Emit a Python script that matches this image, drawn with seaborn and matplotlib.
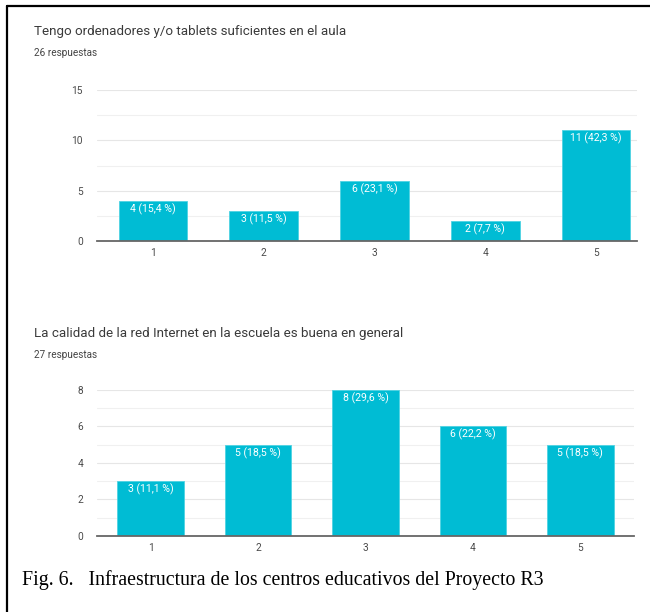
import numpy as np
import pandas as pd
import seaborn as sns
import matplotlib.pyplot as plt
from matplotlib.lines import Line2D
from matplotlib.ticker import MultipleLocator

# data
scale_labels = ["1", "2", "3", "4", "5"]
title_1 = "Tengo ordenadores y/o tablets suficientes en el aula"
answers_1 = "26 respuestas"
counts_1 = [4, 3, 6, 2, 11]
pct_1 = ["15,4", "11,5", "23,1", "7,7", "42,3"]
title_2 = "La calidad de la red Internet en la escuela es buena en general"
answers_2 = "27 respuestas"
counts_2 = [3, 5, 8, 6, 5]
pct_2 = ["11,1", "18,5", "29,6", "22,2", "18,5"]
caption = "Fig. 6.   Infraestructura de los centros educativos del Proyecto R3"

sns.set_theme(style="white")
plt.rcParams['font.family'] = ['Roboto', 'DejaVu Sans']

bar_color = "#00bcd4"
fig = plt.figure(figsize=(6.5, 6.12), dpi=100)


def draw_chart(rect, counts, pct, ymax, major, xlim):
    ax = fig.add_axes(rect)
    df = pd.DataFrame({"opcion": scale_labels, "n": counts})
    sns.barplot(data=df, x="opcion", y="n", color=bar_color, saturation=1,
                width=0.62, edgecolor="#4fd3e3", linewidth=0.6, ax=ax, zorder=3)
    ax.set_ylim(0, ymax)
    ax.set_xlim(*xlim)
    ax.yaxis.set_major_locator(MultipleLocator(major))
    ax.yaxis.set_minor_locator(MultipleLocator(major / 2))
    ax.grid(axis="y", which="major", color="#e6e6e6", linewidth=0.8, zorder=0)
    ax.grid(axis="y", which="minor", color="#f0f0f0", linewidth=0.8, zorder=0)
    ax.set_axisbelow(True)
    for s in ["top", "right", "left"]:
        ax.spines[s].set_visible(False)
    ax.spines["bottom"].set_color("#666666")
    ax.spines["bottom"].set_linewidth(1.3)
    ax.spines["bottom"].set_zorder(4)
    ax.set_xlabel("")
    ax.set_ylabel("")
    ax.tick_params(axis="both", which="both", length=0, labelsize=7.3,
                   labelcolor="#4a4a4a")
    ax.tick_params(axis="y", pad=10)
    ax.tick_params(axis="x", pad=5)
    labels = [f"{c} ({p} %)" for c, p in zip(counts, pct)]
    ax.bar_label(ax.containers[0], labels=labels, padding=-10, color="white",
                 fontsize=7.6, zorder=5)
    return ax


draw_chart([0.1492, 0.6062, 0.8308, 0.2467], counts_1, pct_1, 15, 5, (-0.506, 4.37))
draw_chart([0.1492, 0.1242, 0.8262, 0.2386], counts_2, pct_2, 8, 2, (-0.5, 4.5))

fig.text(34 / 650, 1 - 31 / 612, title_1, fontsize=9.6, color="#3a3a3a", va="center")
fig.text(34 / 650, 1 - 53 / 612, answers_1, fontsize=7.2, color="#444444", va="center")
fig.text(34 / 650, 1 - 333 / 612, title_2, fontsize=9.6, color="#3a3a3a", va="center")
fig.text(34 / 650, 1 - 355 / 612, answers_2, fontsize=7.2, color="#444444", va="center")

fig.text(22 / 650, 1 - 580 / 612, caption, fontsize=14.3, color="black", va="center",
         family=["Liberation Serif", "DejaVu Serif"])

# frame lines (top and left only)
fig.add_artist(Line2D([0.0115, 1.0], [0.9894, 0.9894], color="black", linewidth=1.6,
                      transform=fig.transFigure))
fig.add_artist(Line2D([0.0115, 0.0115], [0.0, 0.9894], color="black", linewidth=1.6,
                      transform=fig.transFigure))

fig.savefig("out.png", dpi=100, facecolor="white")
